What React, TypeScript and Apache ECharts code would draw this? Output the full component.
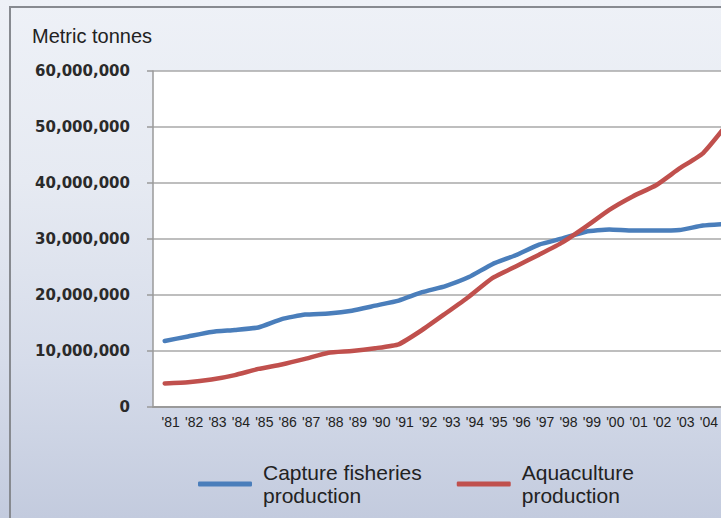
import React, { useEffect, useRef } from "react";
import * as echarts from "echarts";

const years = ["'81", "'82", "'83", "'84", "'85", "'86", "'87", "'88", "'89", "'90", "'91", "'92", "'93", "'94", "'95", "'96", "'97", "'98", "'99", "'00", "'01", "'02", "'03", "'04", "'05"];

const captureFisheries = [11800000, 12600000, 13400000, 13750000, 14200000, 15700000, 16500000, 16700000, 17200000, 18100000, 19000000, 20500000, 21600000, 23200000, 25500000, 27100000, 29000000, 30100000, 31300000, 31700000, 31500000, 31500000, 31600000, 32400000, 32700000];

const aquaculture = [4200000, 4400000, 4900000, 5700000, 6800000, 7600000, 8600000, 9700000, 10000000, 10500000, 11200000, 13750000, 16700000, 19700000, 23000000, 25100000, 27200000, 29400000, 32200000, 35200000, 37600000, 39600000, 42600000, 45300000, 50300000];

const yTicks = { min: 0, max: 60000000, interval: 10000000 };

const seriesNames = ["Capture fisheries production", "Aquaculture production"];

// the last category lies beyond the visible frame in the reference, so its label is not shown
const lastVisibleLabelIndex = 23;

export default function App() {
  const ref = useRef<HTMLDivElement>(null);

  useEffect(() => {
    if (!ref.current) return;
    const chart = echarts.init(ref.current, null, { renderer: "svg" });
    chart.setOption({
      animation: false,
      backgroundColor: "transparent",
      graphic: [
        {
          type: "rect",
          shape: { x: 10, y: 7, width: 900, height: 700 },
          style: { fill: "none", stroke: "#878a90", lineWidth: 2 },
          silent: true,
        },
        {
          type: "text",
          x: 32,
          y: 35.5,
          style: {
            text: "Metric tonnes",
            fontSize: 20,
            fontFamily: "Liberation Sans, Arial, sans-serif",
            fill: "#222",
            verticalAlign: "middle",
            align: "left",
          },
        },
      ],
      grid: {
        left: 153,
        top: 71,
        bottom: 111,
        right: 22,
        show: true,
        backgroundColor: "#ffffff",
        borderWidth: 0,
      },
      legend: {
        left: 198,
        top: 461,
        padding: 0,
        itemWidth: 54,
        itemHeight: 5,
        itemGap: 35,
        icon: "roundRect",
        data: seriesNames,
        formatter: (name: string) => name.replace(" production", "\nproduction"),
        textStyle: {
          fontSize: 21,
          lineHeight: 23,
          fontFamily: "Liberation Sans, Arial, sans-serif",
          color: "#222",
          padding: [0, 0, 0, 6],
        },
      },
      xAxis: {
        type: "category",
        data: years,
        boundaryGap: true,
        axisLine: { show: true, lineStyle: { color: "#9a9a9a", width: 2 } },
        axisTick: { show: false },
        splitLine: { show: false },
        axisLabel: {
          interval: (index: number) => index <= lastVisibleLabelIndex,
          margin: 8,
          fontSize: 14,
          fontFamily: "Liberation Sans, Arial, sans-serif",
          color: "#222",
          padding: [0, 0, 0, 12],
        },
      },
      yAxis: {
        type: "value",
        min: yTicks.min,
        max: yTicks.max,
        interval: yTicks.interval,
        axisLine: { show: true, lineStyle: { color: "#9a9a9a", width: 1.5 } },
        axisTick: { show: true, inside: false, length: 6, lineStyle: { color: "#9a9a9a", width: 1.5 } },
        splitLine: { show: true, lineStyle: { color: "#a8a8a8", width: 1.5 } },
        axisLabel: {
          margin: 23,
          fontSize: 15,
          fontWeight: "bold",
          fontFamily: "DejaVu Sans, Verdana, sans-serif",
          color: "#2a2a2a",
          formatter: (v: number) => v.toLocaleString("en-US"),
        },
      },
      series: [
        {
          name: seriesNames[0],
          type: "line",
          data: captureFisheries,
          showSymbol: false,
          smooth: 0.15,
          color: "#4a7ebb",
          lineStyle: { width: 4.5, color: "#4a7ebb", cap: "round", join: "round" },
        },
        {
          name: seriesNames[1],
          type: "line",
          data: aquaculture,
          showSymbol: false,
          smooth: 0.15,
          color: "#c0504d",
          lineStyle: { width: 4.5, color: "#c0504d", cap: "round", join: "round" },
        },
      ],
    });
    return () => chart.dispose();
  }, []);

  return (
    <div
      style={{
        position: "fixed",
        left: 0,
        top: 0,
        width: 721,
        height: 518,
        overflow: "hidden",
        background:
          "linear-gradient(180deg, #eef1f7 0%, #e6eaf2 35%, #d6dcea 70%, #c3cbde 100%)",
      }}
    >
      <div ref={ref} style={{ width: 760, height: 518 }} />
    </div>
  );
}
